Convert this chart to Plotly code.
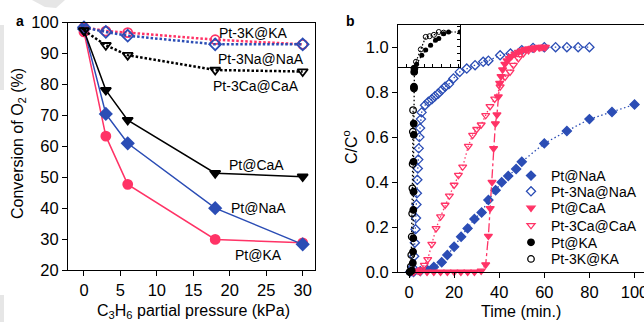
import plotly.graph_objects as go

FONT = "Liberation Sans, Arial, sans-serif"
RED = "#FF3366"
BLUE = "#2B4DB5"
BLACK = "#000000"

# ---------------- Panel a data ----------------
pressure = [0, 3, 6, 18, 30]
conv_pt_ka = [97.0, 63.3, 47.7, 29.9, 28.8]
conv_pt_naa = [98.0, 70.5, 61.0, 40.0, 28.3]
conv_pt_caa = [97.5, 78.2, 68.5, 51.3, 50.2]
conv_pt3k_ka = [98.5, 97.3, 96.8, 94.5, 93.0]
conv_pt3na_naa = [98.5, 97.0, 95.8, 93.0, 93.0]
conv_pt3ca_caa = [97.5, 92.7, 89.5, 84.7, 84.2]

# ---------------- Panel b data ----------------
t_pt_naa = [2, 5, 8, 11, 14.5, 17, 20, 23.1, 26, 29, 32.2, 35.2, 38.4, 41.1, 44, 47.5, 50, 60, 70, 80, 90, 100]
c_pt_naa = [0.0, 0.004, 0.01, 0.022, 0.043, 0.076, 0.112, 0.157, 0.194, 0.236, 0.265, 0.32, 0.364, 0.399,
            0.427, 0.458, 0.49, 0.572, 0.627, 0.68, 0.712, 0.745]

t_pt3na_naa = [0.5, 1.5, 2.3, 2.6, 2.9, 3.1, 3.3, 3.5, 3.7, 3.9, 4.1, 4.3, 4.6, 4.9, 5.3, 5.6, 7.1, 8.6, 10.1,
               11.5, 13.0, 14.5, 16.0, 17.7, 19.7, 22.5, 25.6, 29.3, 32.9, 35.2, 40.4, 45, 50, 55, 60, 65, 70, 75, 80]
c_pt3na_naa = [0.0, 0.02, 0.07, 0.13, 0.19, 0.24, 0.30, 0.35, 0.41, 0.46, 0.50, 0.55, 0.60, 0.64, 0.68, 0.71,
               0.742, 0.757, 0.768, 0.782, 0.794, 0.809, 0.824, 0.836, 0.861, 0.89, 0.905, 0.92, 0.935, 0.94,
               0.964, 0.972, 0.987, 0.997, 1.0, 1.0, 1.0, 1.0, 1.0]

t_pt_caa = [2, 5, 8, 11, 14, 17, 20, 23, 26, 29, 32, 34, 35.2, 36, 36.8, 37.5, 38.3, 39, 39.6, 40.2, 40.8,
            41.5, 42.5, 43.5, 44.5, 45.5, 47, 48.5, 50, 51.5, 53, 54.5, 56, 57.5, 59, 60.5]
c_pt_caa = [0.0, 0.0, 0.0, 0.0, 0.0, 0.0, 0.0, 0.0, 0.0, 0.0, 0.005, 0.033, 0.16, 0.283, 0.40, 0.55, 0.66,
            0.70, 0.78, 0.84, 0.87, 0.90, 0.925, 0.94, 0.95, 0.96, 0.97, 0.978, 0.985, 0.99, 0.993, 0.996,
            0.998, 1.0, 1.0, 1.0]

t_pt3ca_caa = [2, 4, 5.5, 6.8, 8.3, 10.1, 12, 14, 16, 17.9, 20, 21.9, 23.8, 26.3, 28.2, 30, 32, 34, 35.9,
               38, 40.4, 42.6, 44.8, 46.3, 48.5, 50.7, 53, 55.5, 58, 60]
c_pt3ca_caa = [0.0, 0.005, 0.01, 0.031, 0.056, 0.124, 0.194, 0.246, 0.298, 0.339, 0.387, 0.431, 0.468,
               0.56, 0.609, 0.635, 0.655, 0.697, 0.737, 0.77, 0.824, 0.868, 0.89, 0.92, 0.95, 0.972,
               0.985, 0.993, 0.998, 1.0]

t_pt_ka = [0.3, 1.2, 1.7, 1.8, 1.9, 1.9, 2.0, 2.0, 2.1, 2.1, 2.2, 2.2, 2.3, 2.4]
c_pt_ka = [0.0, 0.006, 0.04, 0.09, 0.15, 0.276, 0.357, 0.49, 0.61, 0.66, 0.816, 0.824, 0.89, 0.905]

t_pt3k_ka = [0.3, 0.8, 1.0, 1.2, 1.4, 1.5, 1.6, 1.7, 1.8]
c_pt3k_ka = [0.0, 0.024, 0.076, 0.157, 0.26, 0.372, 0.48, 0.624, 0.72]

# inset (zoom of the K-series breakthrough)
ti_pt_ka = [3.0, 3.84, 4.47, 5.26, 6.05, 6.58, 7.37, 8.16, 10.0]
ci_pt_ka = [0.816, 0.87, 0.90, 0.929, 0.958, 0.968, 0.997, 1.007, 1.007]
ti_pt3k_ka = [2.9, 3.68, 4.47, 5.1, 5.79, 6.58, 7.37]
ci_pt3k_ka = [0.831, 0.904, 0.978, 0.982, 0.99, 1.007, 1.003]

labels_a = ["Pt-3K@KA", "Pt-3Na@NaA", "Pt-3Ca@CaA", "Pt@CaA", "Pt@NaA", "Pt@KA"]
legend_names = ["Pt@NaA", "Pt-3Na@NaA", "Pt@CaA", "Pt-3Ca@CaA", "Pt@KA", "Pt-3K@KA"]

W, H = 644, 322


def px(x):
    return x / W


def py(y):
    return 1 - y / H


fig = go.Figure()

# ---- panel a ----
a_series = [
    (conv_pt_ka, RED, "circle", "solid", 1.5, 9),
    (conv_pt_naa, BLUE, "diamond", "solid", 1.5, 9),
    (conv_pt_caa, BLACK, "triangle-down", "solid", 1.5, 9),
    (conv_pt3k_ka, RED, "circle-open", "2.5px,2px", 2.5, 9),
    (conv_pt3na_naa, BLUE, "diamond-open", "2.5px,2px", 2.5, 9),
    (conv_pt3ca_caa, BLACK, "triangle-down-open", "2.5px,2px", 2.5, 9),
]
for vals, col, sym, dash, lw, ms in a_series:
    fig.add_trace(go.Scatter(
        x=pressure, y=vals, mode="lines+markers", xaxis="x", yaxis="y",
        line=dict(color=col, width=lw, dash=dash),
        marker=dict(symbol=sym, size=ms, color=col, line=dict(color=col, width=1.8)),
        showlegend=False, cliponaxis=False))

# ---- panel b ----
b_series = [
    (t_pt_naa, c_pt_naa, BLUE, "diamond", "1.5px,2.5px", 7, "legend"),
    (t_pt3na_naa, c_pt3na_naa, BLUE, "diamond-open", "1.5px,2.5px", 7, "legend2"),
    (t_pt_caa, c_pt_caa, RED, "triangle-down", "dashdot", 7, "legend3"),
    (t_pt3ca_caa, c_pt3ca_caa, RED, "triangle-down-open", "1.5px,2.5px", 7, "legend4"),
    (t_pt_ka, c_pt_ka, BLACK, "circle", "1.5px,2.5px", 6.5, "legend5"),
    (t_pt3k_ka, c_pt3k_ka, BLACK, "circle-open", "1.5px,2.5px", 6.5, "legend6"),
]
for (tx, cy, col, sym, dash, ms, lg), name in zip(b_series, legend_names):
    fig.add_trace(go.Scatter(
        x=tx, y=cy, mode="lines", xaxis="x2", yaxis="y2",
        line=dict(color=col, width=1.3, dash=dash), showlegend=False, hoverinfo="skip"))
    fig.add_trace(go.Scatter(
        x=tx, y=cy, mode="markers", xaxis="x2", yaxis="y2", name=name, legend=lg,
        marker=dict(symbol=sym, size=ms, color=col, line=dict(color=col, width=1.3)),
        cliponaxis=False))

# ---- inset ----
fig.add_trace(go.Scatter(
    x=ti_pt_ka, y=ci_pt_ka, mode="lines+markers", xaxis="x3", yaxis="y3",
    line=dict(color=BLACK, width=1.2, dash="1.5px,2px"),
    marker=dict(symbol="circle", size=5, color=BLACK), showlegend=False))
fig.add_trace(go.Scatter(
    x=ti_pt3k_ka, y=ci_pt3k_ka, mode="lines+markers", xaxis="x3", yaxis="y3",
    line=dict(color=BLACK, width=1.2, dash="1.5px,2px"),
    marker=dict(symbol="circle-open", size=5, color=BLACK, line=dict(width=1)), showlegend=False))

axis_common = dict(showline=True, linecolor=BLACK, linewidth=1, ticks="outside", ticklen=5,
                   tickcolor=BLACK, showgrid=False, zeroline=False, ticklabeloverflow="allow",
                   tickfont=dict(family=FONT, size=16.5, color=BLACK))

# paper-space geometry
ax_a = (68, 315, 22.7, 270)
ax_b = (398, 644, 24.7, 272)
ax_i = (398, 460, 24.7, 67)

layout = dict(
    width=W, height=H, margin=dict(l=0, r=0, t=0, b=0, autoexpand=False),
    paper_bgcolor="white", plot_bgcolor="rgba(0,0,0,0)",
    font=dict(family=FONT, color=BLACK),
    xaxis=dict(domain=[px(ax_a[0]), px(ax_a[1])], range=[-2.19, 31.69], tick0=0, dtick=5,
               mirror=True, anchor="y", **axis_common),
    yaxis=dict(domain=[py(ax_a[3]), py(ax_a[2])], range=[20, 100], dtick=10,
               mirror=True, anchor="x", **axis_common),
    xaxis2=dict(domain=[px(ax_b[0]), px(ax_b[1])], range=[-4.88, 104.2], tick0=0, dtick=20,
                mirror=True, anchor="y2", **axis_common),
    yaxis2=dict(domain=[py(ax_b[3]), py(ax_b[2])], range=[0, 1.1],
                tickvals=[0, 0.2, 0.4, 0.6, 0.8, 1.0], tickformat=".1f",
                mirror=False, anchor="x2", **axis_common),
    xaxis3=dict(domain=[px(ax_i[0]), px(ax_i[1])], range=[0, 10], dtick=1.4, tick0=0,
                showline=True, mirror=True, linecolor=BLACK, linewidth=1, ticks="inside", ticklen=3,
                tickcolor=BLACK, showticklabels=False, showgrid=False, zeroline=False, anchor="y3"),
    yaxis3=dict(domain=[py(ax_i[3]), py(ax_i[2])], range=[0.8, 1.05], dtick=0.04, tick0=0.8,
                side="right", showline=True, mirror=True, linecolor=BLACK, linewidth=1,
                ticks="inside", ticklen=3, tickcolor=BLACK, showticklabels=False,
                showgrid=False, zeroline=False, anchor="x3"),
)

legend_y = [176, 191.7, 208.3, 225.7, 242.7, 259.3]
for i, ly in enumerate(legend_y):
    key = "legend" if i == 0 else f"legend{i + 1}"
    layout[key] = dict(x=px(511), y=py(ly), xanchor="left", yanchor="middle",
                       bgcolor="rgba(0,0,0,0)", borderwidth=0,
                       font=dict(family=FONT, size=14, color=BLACK))
fig.update_layout(**layout)

# panel a labels
label_pos = [(23.3, 96.8), (24.3, 88.3), (23.6, 79.5), (23.7, 53.9), (23.9, 39.9), (24.0, 24.7)]
for txt, (lx, ly) in zip(labels_a, label_pos):
    fig.add_annotation(x=lx, y=ly, xref="x", yref="y", text=txt, showarrow=False,
                       xanchor="center", yanchor="middle",
                       font=dict(family=FONT, size=14, color=BLACK))

# axis titles and panel letters
titles = [
    ("C<sub>3</sub>H<sub>6</sub> partial pressure (kPa)", 193, 311, 0),
    ("Time (min.)", 521, 311, 0),
    ("Conversion of O<sub>2</sub> (%)", 18, 144, -90),
    ("C/C<sup>o</sup>", 350, 147, -90),
]
for txt, tx, ty, ang in titles:
    fig.add_annotation(x=px(tx), y=py(ty), xref="paper", yref="paper", text=txt, showarrow=False,
                       xanchor="center", yanchor="middle", textangle=ang,
                       font=dict(family=FONT, size=16, color=BLACK))
for txt, tx, ty in [("a", 20, 21), ("b", 350, 21)]:
    fig.add_annotation(x=px(tx), y=py(ty), xref="paper", yref="paper", text=f"<b>{txt}</b>",
                       showarrow=False, xanchor="center", yanchor="middle",
                       font=dict(family=FONT, size=14, color=BLACK))

# faint grey watermark fragments in the reference
fig.add_shape(type="path",
              path=f"M {px(32)} 1 L {px(65)} 1 L {px(56)} {py(8)} L {px(45)} {py(7)} Z",
              xref="paper", yref="paper", fillcolor="#e6e6e6", line=dict(width=0), layer="below")
fig.add_shape(type="rect", x0=0, x1=px(4), y0=py(90), y1=py(25), xref="paper", yref="paper",
              fillcolor="#e6e6e6", line=dict(width=0), layer="below")
fig.add_shape(type="rect", x0=0, x1=px(4), y0=0, y1=py(295), xref="paper", yref="paper",
              fillcolor="#e6e6e6", line=dict(width=0), layer="below")

fig.write_html("out.html")
